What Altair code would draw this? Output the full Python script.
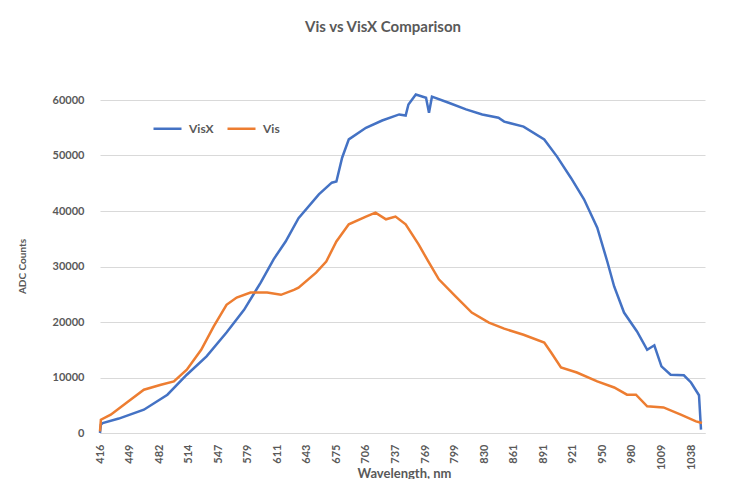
import altair as alt
import pandas as pd

# Category tick labels on the wavelength axis (nm)
tick_nm = [416, 449, 482, 514, 547, 579, 611, 643, 675, 706, 737, 769, 799,
           830, 861, 891, 921, 950, 980, 1009, 1038]
axis_end_nm = 1052

series_names = ["VisX", "Vis"]
series_colors = ["#4472C4", "#ED7D31"]

visx_nm = [416, 417, 419, 437, 465, 491, 512, 534, 556, 575, 593, 607, 620,
           634, 656, 670, 675, 681, 688, 706, 723, 741, 748, 751, 759, 770,
           773, 776, 793, 811, 828, 845, 851, 871, 892, 905, 919, 932, 945,
           955, 962, 972, 985, 995, 1002, 1009, 1018, 1031, 1038, 1046, 1048]
visx_counts = [0, 1500, 1800, 2600, 4200, 6900, 10500, 13800, 18100, 22200,
               27100, 31300, 34500, 38700, 43000, 45100, 45300, 49600, 52900,
               55000, 56300, 57400, 57200, 59200, 61000, 60400, 57700, 60600,
               59500, 58300, 57400, 56800, 56100, 55200, 52900, 49800, 46000,
               42100, 37000, 30900, 26400, 21700, 18300, 15000, 15800, 12000,
               10500, 10400, 9100, 6800, 600]

vis_nm = [416, 417, 428, 446, 465, 484, 498, 512, 528, 542, 556, 567, 582,
          600, 615, 629, 634, 653, 664, 675, 688, 706, 716, 727, 737, 748,
          762, 772, 783, 800, 817, 835, 851, 871, 892, 899, 909, 925, 945,
          962, 975, 984, 995, 1011, 1028, 1043, 1049]
vis_counts = [300, 2400, 3300, 5500, 7800, 8700, 9300, 11400, 15000, 19200,
              23100, 24400, 25300, 25300, 24900, 25800, 26200, 28900, 30900,
              34500, 37600, 39000, 39700, 38500, 39000, 37600, 34000, 31000,
              27700, 24600, 21700, 19900, 18800, 17700, 16300, 14500, 11800,
              10900, 9300, 8200, 6900, 6900, 4800, 4600, 3300, 2100, 1800]

rows = []
for nm, c in zip(visx_nm, visx_counts):
    rows.append({"Wavelength": nm, "Counts": c, "Series": "VisX"})
for nm, c in zip(vis_nm, vis_counts):
    rows.append({"Wavelength": nm, "Counts": c, "Series": "Vis"})
df = pd.DataFrame(rows)

W, H = 606, 333
step = 591 / (len(tick_nm) - 1)
x_domain = tick_nm + [axis_end_nm]
x_range = [round(i * step, 2) for i in range(len(tick_nm))] + [W - 1]

FONT = "Lato"
GREY = "#595959"

chart = alt.Chart(df).mark_line(strokeWidth=2.5, clip=False).encode(
    x=alt.X("Wavelength:Q",
            scale=alt.Scale(domain=x_domain, range=x_range, nice=False, zero=False),
            axis=alt.Axis(values=tick_nm, format="d", labelAngle=270, labelAlign="right",
                          labelBaseline="middle", grid=False, ticks=False, tickSize=0,
                          labelPadding=11, domainColor="#d9d9d9", labelFont=FONT,
                          labelFontSize=11, labelFontWeight="bold", labelColor=GREY,
                          title="Wavelength, nm", titleFont=FONT, titleFontSize=13,
                          titleFontWeight="bold", titleColor=GREY, titleX=304,
                          titleY=40, titleBaseline="middle", labelOverlap=False)),
    y=alt.Y("Counts:Q",
            scale=alt.Scale(domain=[0, 60000], nice=False),
            axis=alt.Axis(values=[0, 10000, 20000, 30000, 40000, 50000, 60000],
                          format="d", domain=False, ticks=False, tickSize=0,
                          labelPadding=16, gridColor="#d9d9d9", labelFont=FONT,
                          labelFontSize=11, labelFontWeight="bold", labelColor=GREY,
                          title="ADC Counts", titleFont=FONT, titleFontSize=10,
                          titleFontWeight="bold", titleColor=GREY, titleX=-78,
                          titleY=166, titleAngle=270, titleAlign="center",
                          titleBaseline="middle")),
    color=alt.Color("Series:N",
                    scale=alt.Scale(domain=series_names, range=series_colors),
                    legend=alt.Legend(title=None, orient="none", legendX=52, legendY=13,
                                      direction="horizontal", symbolType="stroke",
                                      symbolSize=784, symbolStrokeWidth=2.5,
                                      labelFont=FONT, labelFontSize=12,
                                      labelFontWeight="bold", labelColor=GREY,
                                      labelOffset=6, columnPadding=8)),
    order=alt.Order("Wavelength:Q"),
).properties(
    width=W, height=H,
    title=alt.TitleParams("Vis vs VisX Comparison", anchor="middle", dx=-20,
                          offset=54, font=FONT, fontSize=15, fontWeight="bold",
                          color=GREY),
    autosize=alt.AutoSizeParams(type="none"),
    padding={"left": 92, "top": 92, "right": 22, "bottom": 46},
).configure_view(stroke=None)

chart.save("out.html", embed_options={"renderer": "svg", "actions": False})
